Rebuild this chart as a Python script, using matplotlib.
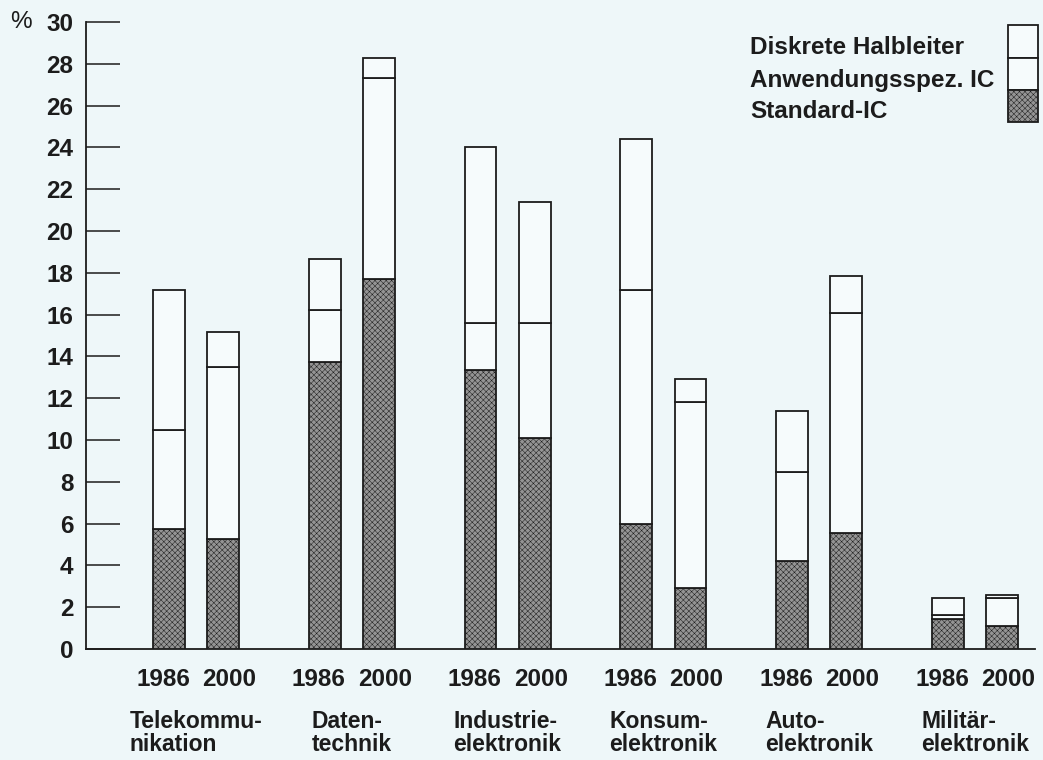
"""Halbleiter-Anteile nach Anwendungsbereich, 1986 und 2000"""
import numpy as np
import matplotlib.pyplot as plt
from matplotlib.patches import Rectangle

plt.rcParams['font.family'] = ['Liberation Sans', 'DejaVu Sans']
plt.rcParams['font.weight'] = 'bold'
plt.rcParams['hatch.linewidth'] = 0.35

categories = ["Telekommu-\nnikation", "Daten-\ntechnik", "Industrie-\nelektronik",
              "Konsum-\nelektronik", "Auto-\nelektronik", "Militär-\nelektronik"]
years = ["1986", "2000"]
series = ["Diskrete Halbleiter", "Anwendungsspez. IC", "Standard-IC"]

# segment values in %, bottom to top: Standard-IC, Anwendungsspez. IC, Diskrete
std_86 = [5.75, 13.75, 13.35, 6.0, 4.2, 1.45]
asic_86 = [4.75, 2.45, 2.25, 11.2, 4.25, 0.2]
disc_86 = [6.7, 2.45, 8.4, 7.2, 2.95, 0.8]
std_00 = [5.25, 17.7, 10.1, 2.9, 5.55, 1.1]
asic_00 = [8.25, 9.6, 5.5, 8.9, 10.55, 1.35]
disc_00 = [1.65, 1.0, 5.8, 1.1, 1.75, 0.15]
yticks = list(range(0, 31, 2))

bg = '#eef7f9'
light = '#f6fbfc'
dark = '#949494'
ink = '#1c1c1c'

W, H = 1043, 760
fig = plt.figure(figsize=(W / 100, H / 100), dpi=100, facecolor=bg)
ax = fig.add_axes([86 / W, (H - 649) / H, (1035 - 86) / W, (649 - 22) / H])
ax.set_facecolor(bg)

x = np.arange(len(categories))
off = 0.174
bw = 0.205
for xs, (s, a, d) in [(x - off, (std_86, asic_86, disc_86)),
                      (x + off, (std_00, asic_00, disc_00))]:
    ax.bar(xs, s, bw, color=dark, edgecolor=ink, hatch='xxxxxx', linewidth=1.3, zorder=3)
    ax.bar(xs, a, bw, bottom=s, color=light, edgecolor=ink, linewidth=1.3, zorder=3)
    ax.bar(xs, d, bw, bottom=np.add(s, a), color=light, edgecolor=ink, linewidth=1.3, zorder=3)

ax.set_xlim(-0.706, 5.385)
ax.set_ylim(0, 30)
ax.set_yticks(yticks)
ax.tick_params(axis='y', direction='in', length=24.5, width=1.1, color=ink,
               pad=9, labelsize=17.5, labelcolor=ink)
ax.set_xticks([])
for sp in ['top', 'right']:
    ax.spines[sp].set_visible(False)
for sp in ['left', 'bottom']:
    ax.spines[sp].set_linewidth(1.3)
    ax.spines[sp].set_color(ink)

ax.text(-1.053, 30, '%', ha='right', va='center', fontsize=17.5,
        fontweight='normal', color=ink)

# year labels and category labels below the axis
yoff = 0.212
for i, cat in enumerate(categories):
    for xs, yr in zip([i - yoff, i + yoff], years):
        ax.annotate(yr, (xs, 0), xytext=(0, -31), textcoords='offset pixels',
                    ha='center', va='center', fontsize=17.5, color=ink)
    ax.annotate(cat, (i, 0), xytext=(0, -84), textcoords='offset pixels',
                ha='center', va='center', multialignment='left',
                fontsize=16.5, color=ink, linespacing=1.05)

# legend: text on the left, stacked box on the right
legend_y = [48, 80, 111]
for lab, yy in zip(series, legend_y):
    fig.text(750 / W, 1 - yy / H, lab, ha='left', va='center', fontsize=17.5, color=ink)
box_edges = [25, 58, 90, 122]
for k, lab in enumerate(series):
    top, bot = box_edges[k], box_edges[k + 1]
    fc = dark if lab == 'Standard-IC' else light
    fig.patches.append(Rectangle((1008 / W, 1 - bot / H), 30 / W, (bot - top) / H,
                                 transform=fig.transFigure, facecolor=fc,
                                 edgecolor=ink, linewidth=1.3,
                                 hatch='xxxxxx' if lab == 'Standard-IC' else None))

fig.savefig('out.png', dpi=100, facecolor=bg)
